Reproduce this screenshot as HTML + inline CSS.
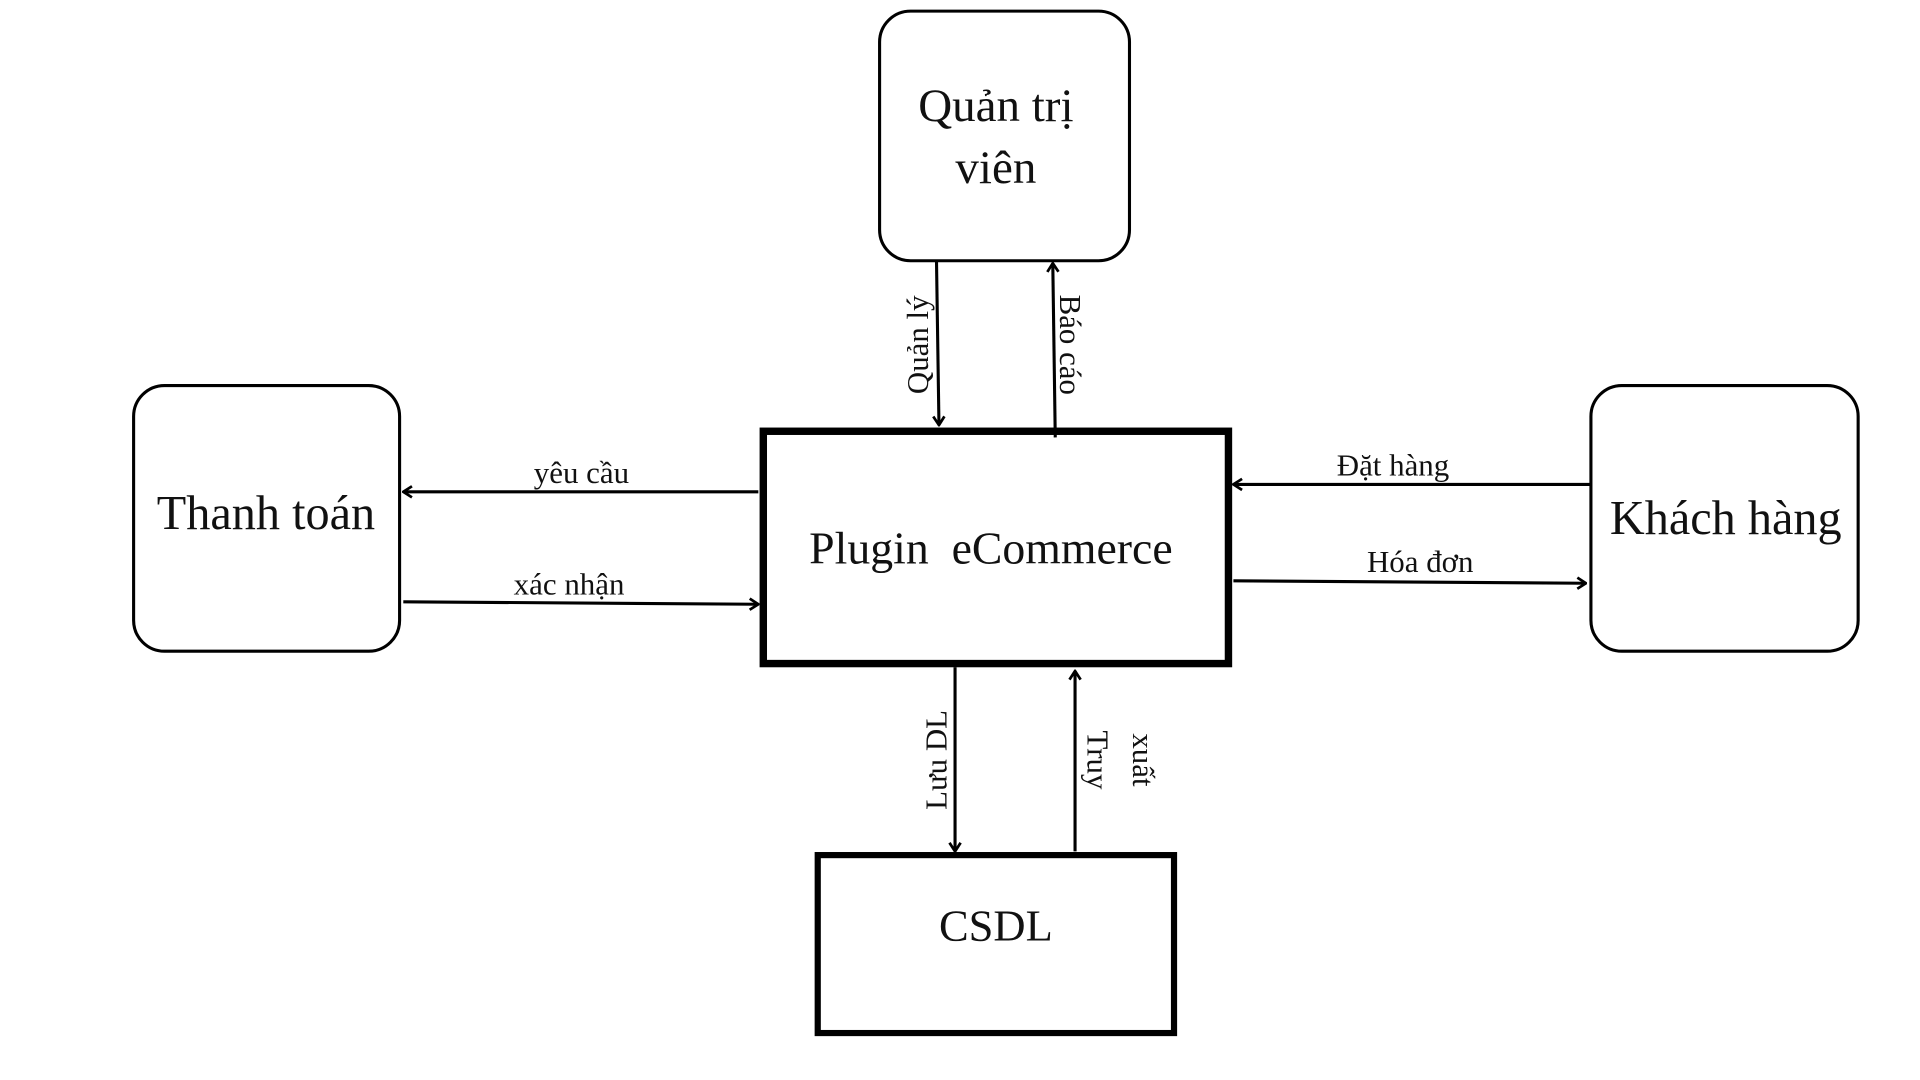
<!DOCTYPE html>
<html><head><meta charset="utf-8"><style>
html,body{margin:0;padding:0;background:#fff;}
svg{display:block;}
text{font-family:"Liberation Serif","Noto Serif CJK SC",serif;fill:#111;}
</style></head><body>
<svg width="1920" height="1080" viewBox="0 0 1552 874" preserveAspectRatio="none" xmlns="http://www.w3.org/2000/svg">
<defs>
<marker id="a" viewBox="0 0 10 10" refX="9" refY="5" markerWidth="5" markerHeight="5" orient="auto" markerUnits="userSpaceOnUse">
<path d="M1,1 L9,5 L1,9" fill="none" stroke="#000" stroke-width="2" transform="scale(1)"/>
</marker>
<marker id="b" viewBox="0 0 12 12" refX="11" refY="6" markerWidth="12" markerHeight="12" orient="auto" markerUnits="userSpaceOnUse">
<path d="M4,1.5 L11,6 L4,10.5" fill="none" stroke="#000" stroke-width="2.2"/>
</marker>
</defs>
<g fill="none" stroke="#000">
<rect x="711" y="9" width="202" height="202" rx="25" stroke-width="2.5"/>
<rect x="108" y="312" width="215" height="215" rx="25" stroke-width="2.5"/>
<rect x="1286" y="312" width="216" height="215" rx="25" stroke-width="2.5"/>
<rect x="617" y="349" width="376" height="188" stroke-width="6"/>
<rect x="661" y="692" width="288" height="144" stroke-width="5"/>
<g stroke-width="2.5" marker-end="url(#b)">
<line x1="757" y1="211" x2="759" y2="344"/>
<line x1="853" y1="354" x2="851" y2="213"/>
<line x1="613" y1="398" x2="326" y2="398"/>
<line x1="326" y1="487" x2="613" y2="489"/>
<line x1="1285" y1="392" x2="997" y2="392"/>
<line x1="997" y1="470" x2="1282" y2="472"/>
<line x1="772" y1="540" x2="772" y2="689"/>
<line x1="869" y1="689" x2="869" y2="543"/>
</g>
</g>
<g text-anchor="middle">
<text x="805" y="98" font-size="38">Quản trị</text>
<text x="805" y="148" font-size="38">viên</text>
<text x="215" y="428" font-size="39">Thanh toán</text>
<text x="1395" y="432" font-size="39">Khách hàng</text>
<text x="801" y="456" font-size="37" xml:space="preserve">Plugin  eCommerce</text>
<text x="805" y="761" font-size="36">CSDL</text>
<text x="470" y="391" font-size="25">yêu cầu</text>
<text x="460" y="481" font-size="25">xác nhận</text>
<text x="1126" y="385" font-size="25">Đặt hàng</text>
<text x="1148" y="463" font-size="25">Hóa đơn</text>
<text transform="translate(750,279) rotate(-90)" font-size="25">Quản lý</text>
<text transform="translate(857,279) rotate(90)" font-size="25">Báo cáo</text>
<text transform="translate(765,615) rotate(-90)" font-size="25">Lưu DL</text>
<text transform="translate(879,615) rotate(90)" font-size="25">Truy</text>
<text transform="translate(916,615) rotate(90)" font-size="25">xuất</text>
</g>
</svg>
</body></html>
